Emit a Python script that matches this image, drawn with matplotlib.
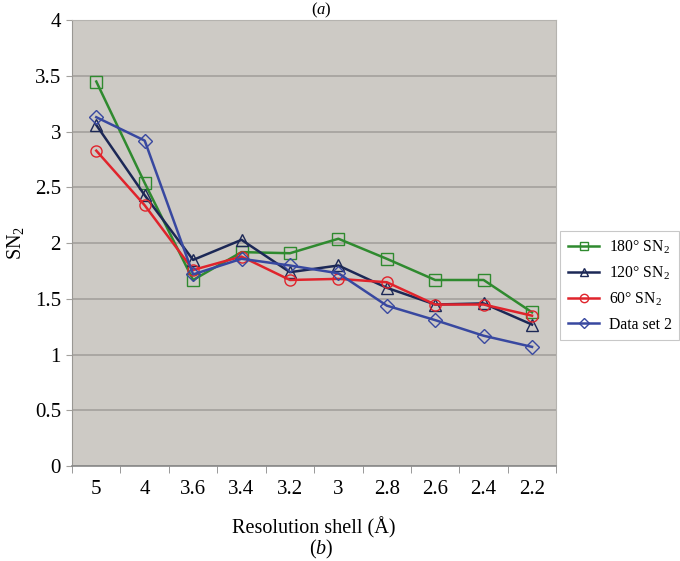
import numpy as np
import matplotlib.pyplot as plt

plt.rcParams['font.family'] = ['Liberation Serif', 'DejaVu Serif']
plt.rcParams['mathtext.fontset'] = 'custom'
plt.rcParams['mathtext.rm'] = 'Liberation Serif'
plt.rcParams['mathtext.it'] = 'Liberation Serif:italic'

shells = ['5', '4', '3.6', '3.4', '3.2', '3', '2.8', '2.6', '2.4', '2.2']
sn_180 = [3.45, 2.54, 1.67, 1.92, 1.91, 2.04, 1.86, 1.67, 1.67, 1.38]
sn_120 = [3.06, 2.43, 1.85, 2.03, 1.74, 1.80, 1.60, 1.45, 1.46, 1.27]
sn_60 = [2.83, 2.34, 1.76, 1.88, 1.67, 1.68, 1.65, 1.45, 1.45, 1.35]
data_set2 = [3.13, 2.92, 1.72, 1.86, 1.80, 1.73, 1.44, 1.31, 1.17, 1.07]

fig = plt.figure(figsize=(6.8, 5.61), dpi=100)
ax = fig.add_axes([0.106, 0.169, 0.712, 0.795])
ax.set_facecolor('#cdcac5')

x = np.arange(len(shells))
series = [
    (sn_180, '180° SN$_2$', '#2f8a2f', 's', 8),
    (sn_120, '120° SN$_2$', '#1c2856', '^', 8),
    (sn_60, '60° SN$_2$', '#e0242c', 'o', 8),
    (data_set2, 'Data set 2', '#3848a0', 'D', 7),
]
for vals, lab, col, mk, ms in series:
    ax.plot(x, vals, color=col, lw=1.8, marker=mk, ms=ms, mfc='none',
            mec=col, mew=1.0, label=lab)

ax.set_xlim(-0.5, len(shells) - 0.5)
ax.set_ylim(0, 4)
ax.set_yticks(np.arange(0, 4.01, 0.5))
ax.set_yticklabels(['0', '0.5', '1', '1.5', '2', '2.5', '3', '3.5', '4'])
ax.yaxis.grid(True, color='#a3a19d', lw=1.2)
ax.set_axisbelow(True)
ax.tick_params(axis='y', length=4, color='#a3a19d', labelsize=15, pad=4)

ax.set_xticks(x)
ax.set_xticklabels(shells)
ax.set_xticks(np.arange(-0.5, len(shells), 1), minor=True)
ax.tick_params(axis='x', which='major', length=0, labelsize=15, pad=10)
ax.tick_params(axis='x', which='minor', length=5, color='#888888')

for s in ['top', 'right']:
    ax.spines[s].set_color('#b5b3af')
ax.spines['left'].set_color('#999793')
ax.spines['bottom'].set_color('#888888')
ax.spines['bottom'].set_linewidth(1.2)

ax.set_xlabel('Resolution shell (Å)', fontsize=14.5, labelpad=13)
ax.set_ylabel('SN$_2$', fontsize=14.5, labelpad=6)
fig.text(0.473, 0.012, '($b$)', fontsize=14.5, ha='center')
fig.text(0.473, 0.999, '($a$)', fontsize=12, ha='center', va='top')

leg = ax.legend(loc='center left', bbox_to_anchor=(0.998, 0.405), fontsize=11.3,
                frameon=True, fancybox=False, edgecolor='#bbbbbb',
                handlelength=2.0, handletextpad=0.6, borderpad=0.5,
                labelspacing=0.55, markerscale=0.75, borderaxespad=0.3)
leg.get_frame().set_linewidth(0.8)

fig.savefig('out.png', dpi=100)
